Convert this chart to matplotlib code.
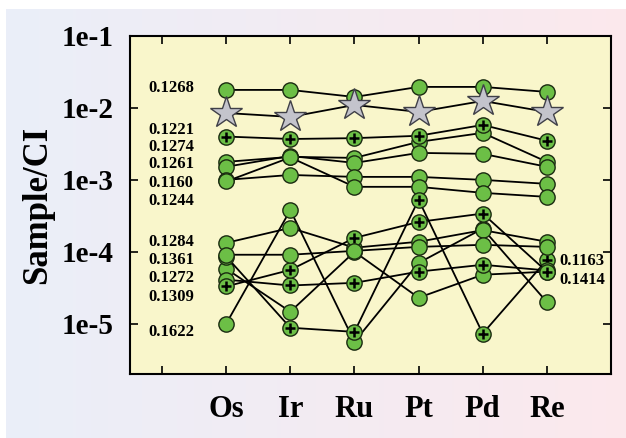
import numpy as np
import matplotlib
matplotlib.use('Agg')
import matplotlib.pyplot as plt

plt.rcParams['font.family'] = ['Liberation Serif', 'DejaVu Serif']
plt.rcParams['font.weight'] = 'bold'

elements = ['Os', 'Ir', 'Ru', 'Pt', 'Pd', 'Re']
ytick_labels = ['1e-5', '1e-4', '1e-3', '1e-2', '1e-1']

# star series
star_vals = [0.0085, 0.0075, 0.0110, 0.0088, 0.0125, 0.0088]

# upper group (circles)
u_top = [0.0178, 0.0178, 0.0142, 0.0196, 0.0196, 0.0167]
u_plus = [0.0040, 0.0037, 0.0038, 0.0041, 0.0058, 0.0035]
u_a = [0.00178, 0.00209, 0.00202, 0.00337, 0.0045, 0.00178]
u_b = [0.00152, 0.00215, 0.00172, 0.00237, 0.0023, 0.00152]
u_c = [0.00100, 0.00117, 0.00110, 0.00110, 0.00100, 0.00088]
u_d = [0.00095, 0.00205, 0.00080, 0.00080, 0.00066, 0.00058]

# lower group
l_1 = [1.0e-5, 3.8e-4, 5.6e-6, 7.0e-5, 2.1e-4, 2.0e-5]
l_2 = [1.33e-4, 2.15e-4, 1.14e-4, 1.38e-4, 2.0e-4, 1.38e-4]
l_3 = [9.1e-5, 9.1e-5, 1.03e-4, 1.17e-4, 1.25e-4, 1.17e-4]
l_6 = [5.8e-5, 1.47e-5, 1.0e-4, 2.3e-5, 4.8e-5, 5.3e-5]
l_4 = [3.3e-5, 5.6e-5, 1.56e-4, 2.6e-4, 3.4e-4, 5.3e-5]
l_5 = [4.1e-5, 3.4e-5, 3.7e-5, 5.3e-5, 6.6e-5, 5.5e-5]
l_7 = [8.6e-5, 8.8e-6, 7.7e-6, 5.3e-4, 7.3e-6, 7.7e-5]

circle_series = [u_top, u_a, u_b, u_c, u_d, l_1, l_2, l_6]
plus_series = [u_plus, l_7, l_5, l_4]
# points where the cross is covered in the original
plus_shown = [[0, 1, 2, 3, 4, 5], [1, 2, 3, 4, 5], [1, 2, 3, 4, 5],
              [0, 1, 2, 3, 4, 5]]

left_labels = ['0.1268', '0.1221', '0.1274', '0.1261', '0.1160', '0.1244',
               '0.1284', '0.1361', '0.1272', '0.1309', '0.1622']
left_label_y = [0.0190, 0.00495, 0.00287, 0.00167, 0.00091, 0.00051,
                1.38e-4, 7.7e-5, 4.35e-5, 2.37e-5, 7.7e-6]
right_labels = ['0.1163', '0.1414']
right_label_y = [7.5e-5, 4.1e-5]

GREEN = '#6cbf46'


def draw_background(fig):
    bg = fig.add_axes([6 / 626, 0, 1 - 6 / 626, 1 - 9 / 438], zorder=-5)
    t = np.linspace(0, 1, 256)
    left = np.array([0.918, 0.936, 0.975])
    right = np.array([0.988, 0.912, 0.928])
    row = left[None, :] * (1 - t[:, None]) + right[None, :] * t[:, None]
    img = np.repeat(row[None, :, :], 2, axis=0)
    bg.imshow(img, aspect='auto', extent=[0, 1, 0, 1])
    bg.axis('off')


def draw_series(ax, xs, vals, z, shown=None):
    ax.plot(xs, vals, color='black', lw=1.3, zorder=z,
            marker='o', ms=11, mfc=GREEN, mec='#1a2a10', mew=1.0)
    if shown is not None:
        ax.plot(xs, vals, ls='none', marker='+', ms=6.5, mec='black',
                mew=1.8, markevery=shown, zorder=z + 0.01)


if __name__ == '__main__':
    fig = plt.figure(figsize=(6.26, 4.38), dpi=100)
    fig.patch.set_facecolor('white')
    draw_background(fig)

    ax = fig.add_axes([130 / 626, 64 / 438, 481 / 626, 338 / 438])
    ax.set_facecolor('#f9f6cb')
    xs = np.arange(1, len(elements) + 1)

    z = 3
    for s in circle_series:
        draw_series(ax, xs, s, z)
        z += 0.1
    for s, shown in zip(plus_series, plus_shown):
        draw_series(ax, xs, s, z, shown)
        z += 0.1
    draw_series(ax, xs, l_3, z)

    ax.plot(xs, star_vals, color='black', lw=1.3, marker='*', ms=24,
            mfc='#c4c4cc', mec='#404048', mew=1.0, zorder=z + 1)

    for lab, yv in zip(left_labels, left_label_y):
        ax.text(0.14, yv, lab, ha='center', va='center', fontsize=12,
                fontweight='bold')
    for lab, yv in zip(right_labels, right_label_y):
        ax.text(6.55, yv, lab, ha='center', va='center', fontsize=12,
                fontweight='bold')

    ax.set_yscale('log')
    ax.set_ylim(2e-6, 1e-1)
    ax.set_xlim(-0.5, 7.0)
    ax.set_yticks([1e-5, 1e-4, 1e-3, 1e-2, 1e-1])
    ax.set_yticklabels(ytick_labels)
    ax.yaxis.set_minor_locator(matplotlib.ticker.NullLocator())
    ax.set_xticks(np.arange(0, 7))
    ax.set_xticklabels([''] + elements)
    ax.tick_params(axis='both', direction='in', length=6, width=1.2,
                   top=True, right=True, labelsize=21, pad=12)
    ax.tick_params(axis='x', pad=15, labelsize=22)
    for sp in ax.spines.values():
        sp.set_linewidth(1.5)
    ax.set_ylabel('Sample/CI', fontsize=25, fontweight='bold')
    ax.yaxis.set_label_coords(-0.158, 0.5)

    fig.savefig('out.png', dpi=100)
